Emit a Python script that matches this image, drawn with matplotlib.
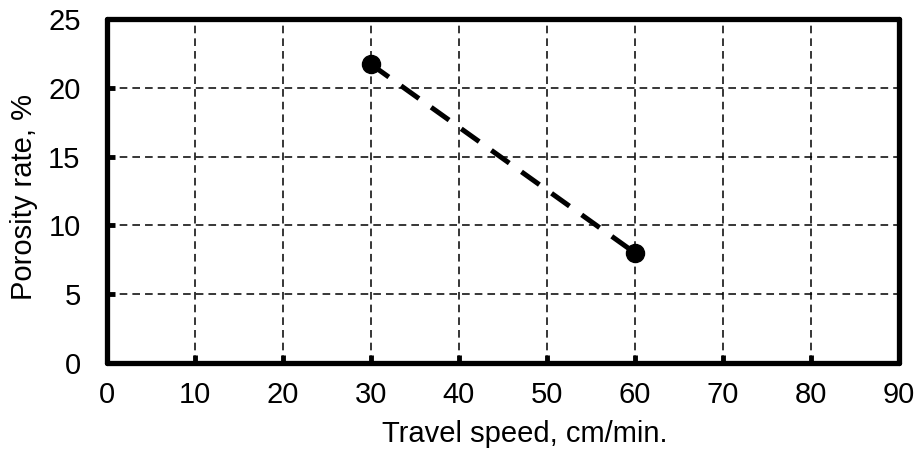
import numpy as np
import matplotlib.pyplot as plt

plt.rcParams.update({"font.family": "Liberation Sans",
                     "font.size": 21,
                     "xtick.color": "k",
                     "ytick.color": "k"})

## data
speed = [30, 60]
porosity = [21.7, 8.0]
xticks = np.arange(0, 91, 10)
yticks = np.arange(0, 26, 5)

fig = plt.figure(figsize=(9.22, 4.59), dpi=100)
ax = fig.add_axes([0.116, 0.209, 0.859, 0.750])

ax.plot(speed, porosity, color='k', linestyle=(0, (4.4, 3.0)), linewidth=3.6,
        marker='o', markersize=13, zorder=3)

ax.set_xlim(0, 90)
ax.set_ylim(0, 25)
ax.set_xticks(xticks)
ax.set_yticks(yticks)
ax.grid(True, color='k', linestyle=(0, (5, 3.3)), linewidth=1.1)

for s in ax.spines.values():
    s.set_linewidth(3.8)
    s.set_capstyle('round')
ax.tick_params(direction='in', length=6, width=3.5)
ax.tick_params(axis='y', pad=19)
ax.tick_params(axis='x', pad=13)

ax.set_xlabel('Travel speed, cm/min.', fontsize=21)
ax.set_ylabel('Porosity rate, %', fontsize=21)
ax.xaxis.set_label_coords(0.528, -0.165)
ax.yaxis.set_label_coords(-0.087, 0.483)

plt.savefig('out.png', dpi=100)
